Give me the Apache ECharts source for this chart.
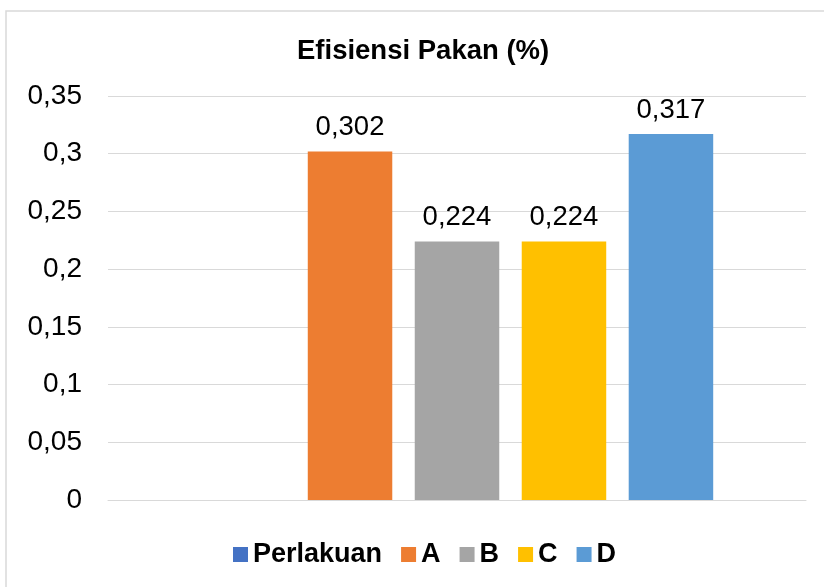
<!DOCTYPE html>
<html>
<head>
<meta charset="utf-8">
<script src="https://cdn.jsdelivr.net/npm/echarts@6/dist/echarts.min.js"></script>
<style>
html,body{margin:0;padding:0;background:#fff;}
#c{width:824px;height:587px;}
</style>
</head>
<body>
<div id="c"></div>
<script>
var categories = ['Efisiensi Pakan (%)'];
var seriesNames = ['Perlakuan', 'A', 'B', 'C', 'D'];
var seriesValues = [null, 0.302, 0.224, 0.224, 0.317];
var seriesColors = ['#4472C4', '#ED7D31', '#A5A5A5', '#FFC000', '#5B9BD5'];
var yTicks = [0, 0.05, 0.1, 0.15, 0.2, 0.25, 0.3, 0.35];

var FONT = '"Liberation Sans", Arial, sans-serif';
function fmt(v) { return String(+(+v).toFixed(4)).replace('.', ','); }

var chart = echarts.init(document.getElementById('c'), null, {renderer: 'canvas'});

var series = seriesNames.map(function (name, i) {
  return {
    name: name,
    type: 'bar',
    data: [seriesValues[i] === null ? '-' : seriesValues[i]],
    barWidth: 84.5,
    barGap: '26.6%',
    itemStyle: {color: seriesColors[i]},
    label: {
      show: seriesValues[i] !== null,
      position: 'top',
      distance: 10,
      formatter: function (p) { return fmt(p.value); },
      fontFamily: FONT,
      fontSize: 27.5,
      color: '#000'
    }
  };
});

chart.setOption({
  animation: false,
  backgroundColor: '#fff',
  title: {
    text: categories[0],
    left: 292,
    top: 32,
    textStyle: {fontFamily: FONT, fontSize: 27.5, fontWeight: 'bold', color: '#000'}
  },
  graphic: [{
    type: 'rect',
    shape: {x: 6, y: 11, width: 840, height: 600},
    style: {fill: 'none', stroke: '#d9d9d9', lineWidth: 1.5},
    silent: true
  }],
  legend: {
    data: seriesNames,
    left: 228,
    top: 536,
    itemWidth: 15,
    itemHeight: 15,
    itemGap: 19,
    icon: 'rect',
    textStyle: {fontFamily: FONT, fontSize: 27, fontWeight: 'bold', color: '#000'}
  },
  grid: {left: 108, right: 18, top: 96, bottom: 87, containLabel: false},
  xAxis: {
    type: 'category',
    data: categories,
    axisLine: {show: true, lineStyle: {color: '#d9d9d9', width: 1}},
    axisTick: {show: false},
    axisLabel: {show: false}
  },
  yAxis: {
    type: 'value',
    min: yTicks[0],
    max: yTicks[yTicks.length - 1],
    interval: yTicks[1] - yTicks[0],
    axisLine: {show: false},
    axisTick: {show: false},
    splitLine: {lineStyle: {color: '#d9d9d9', width: 1}},
    axisLabel: {
      margin: 26,
      fontFamily: FONT,
      fontSize: 28,
      color: '#000',
      formatter: function (v) { return fmt(v); }
    }
  },
  series: series
});
</script>
</body>
</html>
